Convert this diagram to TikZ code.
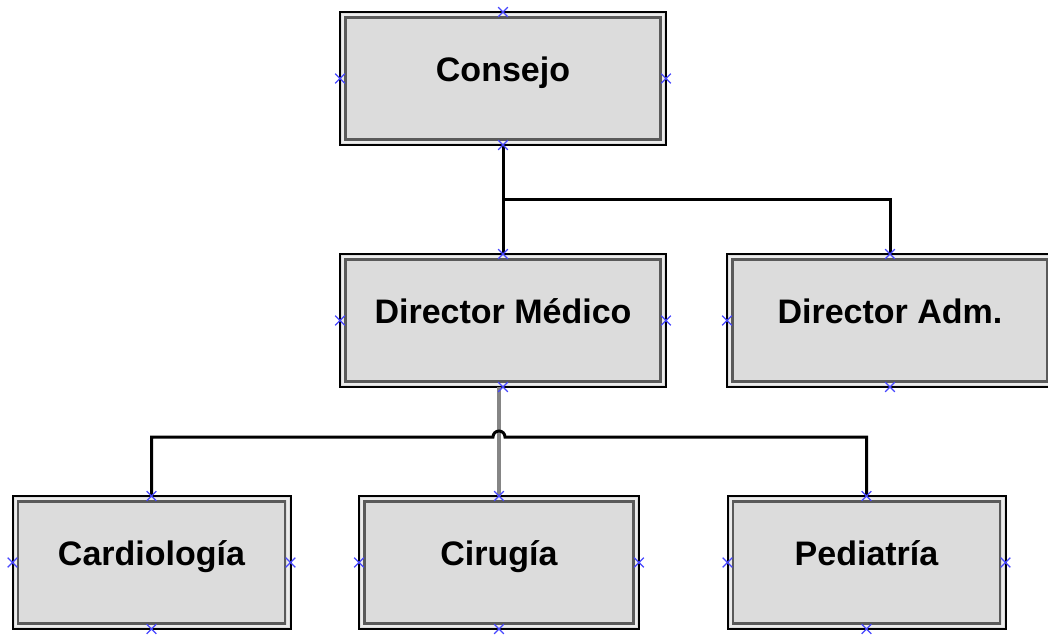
\documentclass[tikz,border=0pt]{standalone}
\usepackage{fontspec}
\setmainfont{Liberation Sans}
\usetikzlibrary{calc,shapes.misc}
\definecolor{boxfill}{HTML}{DCDCDC}
\definecolor{rimgray}{HTML}{5A5A5A}
\definecolor{markblue}{HTML}{4646FF}
\definecolor{feedgray}{HTML}{858585}
\begin{document}
\begin{tikzpicture}[x=1pt,y=-1pt,
  orgbox/.style={rectangle, draw=black, line width=2pt, fill=boxfill,
    minimum height=133pt, inner sep=0pt, outer sep=0pt,
    path picture={
      \draw[white!85!gray, line width=2pt]
        ([shift={(3pt,-3pt)}]path picture bounding box.north west) rectangle
        ([shift={(-3pt,3pt)}]path picture bounding box.south east);
      \draw[rimgray, line width=2.8pt]
        ([shift={(5.5pt,-5.5pt)}]path picture bounding box.north west) rectangle
        ([shift={(-5.5pt,5.5pt)}]path picture bounding box.south east);
    }},
  boxtext/.style={anchor=base, inner sep=0pt, font=\fontsize{34}{40}\selectfont\bfseries},
  conn/.style={line width=3pt, black},
  feed/.style={line width=3.2pt, feedgray},
  xmark/.style={cross out, draw=markblue, line width=1.2pt, minimum size=8.5pt, inner sep=0pt}
]
\useasboundingbox (0,0) rectangle (1048,635);
\clip (0,0) rectangle (1048,635);

% boxes
\node[orgbox, minimum width=326pt] (consejo) at (503,78.5) {};
\node[orgbox, minimum width=326pt] (dm) at (503,320.5) {};
\node[orgbox, minimum width=326pt] (da) at (890,320.5) {};
\node[orgbox, minimum width=278pt] (card) at (151.5,562.5) {};
\node[orgbox, minimum width=280pt] (cir) at (499,562.5) {};
\node[orgbox, minimum width=278pt] (ped) at (866.5,562.5) {};

% labels
\node[boxtext] (consejo-t) at ($(consejo.center)+(0,3)$) {Consejo};
\node[boxtext] (dm-t) at ($(dm.center)+(0,3)$) {Director Médico};
\node[boxtext] (da-t) at ($(da.center)+(0,3)$) {Director Adm.};
\node[boxtext] (card-t) at ($(card.center)+(0,3)$) {Cardiología};
\node[boxtext] (cir-t) at ($(cir.center)+(0,3)$) {Cirugía};
\node[boxtext] (ped-t) at ($(ped.center)+(0,3)$) {Pediatría};

% upper level
\coordinate (split) at ($(consejo.south)+(0,54)$);
\draw[conn] (consejo.south) -- (split) -- (dm.north);
\draw[conn] (split) -| (da.north);

% lower level
\coordinate (bus) at (0,437);
\draw[feed] (cir.north) -- (cir.north |- dm.south);
\draw[conn] (card.north) -- (card.north |- bus)
  -- ($(cir.north |- bus)+(-6,0)$) arc[start angle=180, end angle=0, radius=6pt]
  -- (ped.north |- bus) -- (ped.north);

% connection points
\foreach \n in {consejo,dm,da,card,cir,ped}
  \foreach \a in {north,south,east,west}
    \node[xmark] (\n-\a-pt) at (\n.\a) {};
\end{tikzpicture}
\end{document}
